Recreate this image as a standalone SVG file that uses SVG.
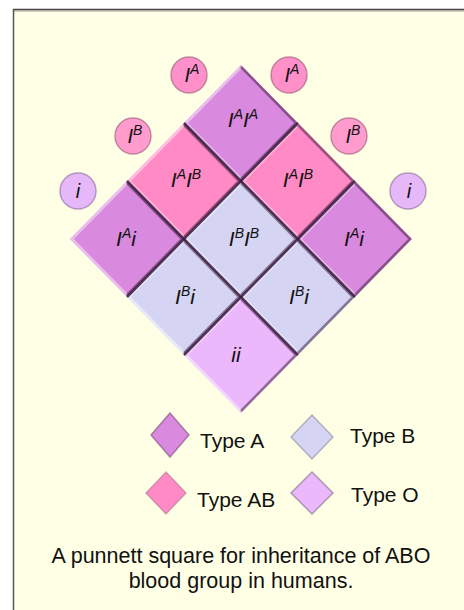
<svg xmlns="http://www.w3.org/2000/svg" width="464" height="610" viewBox="0 0 464 610">
<style>
.lbl{font-family:"Liberation Sans",Arial,sans-serif;font-style:italic;font-size:21px;fill:#111;text-anchor:middle}
.al{font-family:"Liberation Sans",Arial,sans-serif;font-style:italic;font-size:20px;fill:#111;text-anchor:middle}
.sup{font-size:14px}
.leg{font-family:"Liberation Sans",Arial,sans-serif;font-size:21px;fill:#111}
.cap{font-family:"Liberation Sans",Arial,sans-serif;font-size:21.5px;fill:#111;text-anchor:middle}
.tA{fill:#d98ade}
.tAB{fill:#ff8ac6}
.tB{fill:#d5d5f3}
.tO{fill:#ebb8fb}
.hl{fill:none;stroke:#fff;stroke-opacity:0.45;stroke-width:2.5}
.sh{fill:none;stroke:#3a1838;stroke-opacity:0.5;stroke-width:2.5}
.seam{stroke:#3a1a40;stroke-width:2.5;stroke-opacity:0.85}
.cA{fill:#ff90c9;stroke:#9a5a78;stroke-width:1.5;stroke-opacity:0.6}
.cB{fill:#ff9ccd;stroke:#9a5a78;stroke-width:1.5;stroke-opacity:0.6}
.ci{fill:#e6b8fa;stroke:#8a6aa0;stroke-width:1.5;stroke-opacity:0.6}
</style>
<rect x="0" y="0" width="464" height="610" fill="#ffffff"/>
<rect x="13" y="9.5" width="460" height="610" fill="#ffffe6"/>
<line x1="13.5" y1="9" x2="13.5" y2="610" stroke="#555" stroke-width="1.5"/>
<line x1="13" y1="9.5" x2="464" y2="9.5" stroke="#444" stroke-width="1.5"/>
<line x1="14" y1="11" x2="464" y2="11" stroke="#999" stroke-width="1"/>

<g id="cell-IAIA"><polygon class="tA" points="241,65 298,123 241,181 184,123"/><polyline class="hl" points="241,179 186,123 241,67"/><polyline class="sh" points="241,67 296,123 241,179"/><text class="lbl" x="243" y="127">I<tspan class="sup" dy="-8">A</tspan><tspan dy="8">I</tspan><tspan class="sup" dy="-8">A</tspan></text></g>
<g id="cell-IAIB-left"><polygon class="tAB" points="184,123 241,181 184,239 127,181"/><polyline class="hl" points="184,237 129,181 184,125"/><polyline class="sh" points="184,125 239,181 184,237"/><text class="lbl" x="186" y="187">I<tspan class="sup" dy="-8">A</tspan><tspan dy="8">I</tspan><tspan class="sup" dy="-8">B</tspan></text></g>
<g id="cell-IAIB-right"><polygon class="tAB" points="298,123 355,181 298,239 241,181"/><polyline class="hl" points="298,237 243,181 298,125"/><polyline class="sh" points="298,125 353,181 298,237"/><text class="lbl" x="298" y="187">I<tspan class="sup" dy="-8">A</tspan><tspan dy="8">I</tspan><tspan class="sup" dy="-8">B</tspan></text></g>
<g id="cell-IAi-left"><polygon class="tA" points="127,181 184,239 127,297 70,239"/><polyline class="hl" points="127,295 72,239 127,183"/><polyline class="sh" points="127,183 182,239 127,295"/><text class="lbl" x="126" y="246">I<tspan class="sup" dy="-8">A</tspan><tspan dy="8">i</tspan></text></g>
<g id="cell-IBIB"><polygon class="tB" points="241,181 298,239 241,297 184,239"/><polyline class="hl" points="241,295 186,239 241,183"/><polyline class="sh" points="241,183 296,239 241,295"/><text class="lbl" x="244" y="246">I<tspan class="sup" dy="-8">B</tspan><tspan dy="8">I</tspan><tspan class="sup" dy="-8">B</tspan></text></g>
<g id="cell-IAi-right"><polygon class="tA" points="355,181 412,239 355,297 298,239"/><polyline class="hl" points="355,295 300,239 355,183"/><polyline class="sh" points="355,183 410,239 355,295"/><text class="lbl" x="354" y="246">I<tspan class="sup" dy="-8">A</tspan><tspan dy="8">i</tspan></text></g>
<g id="cell-IBi-left"><polygon class="tB" points="184,239 241,297 184,355 127,297"/><polyline class="hl" points="184,353 129,297 184,241"/><polyline class="sh" points="184,241 239,297 184,353"/><text class="lbl" x="185" y="304">I<tspan class="sup" dy="-8">B</tspan><tspan dy="8">i</tspan></text></g>
<g id="cell-IBi-right"><polygon class="tB" points="298,239 355,297 298,355 241,297"/><polyline class="hl" points="298,353 243,297 298,241"/><polyline class="sh" points="298,241 353,297 298,353"/><text class="lbl" x="299" y="304">I<tspan class="sup" dy="-8">B</tspan><tspan dy="8">i</tspan></text></g>
<g id="cell-ii"><polygon class="tO" points="241,297 298,355 241,413 184,355"/><polyline class="hl" points="241,411 186,355 241,299"/><polyline class="sh" points="241,299 296,355 241,411"/><text class="lbl" x="236" y="362">ii</text></g>

<g id="seams">
<line class="seam" x1="184" y1="123" x2="355" y2="297"/>
<line class="seam" x1="127" y1="181" x2="298" y2="355"/>
<line class="seam" x1="298" y1="123" x2="127" y2="297"/>
<line class="seam" x1="355" y1="181" x2="184" y2="355"/>
</g>

<g id="allele-IA-left"><circle class="cA" cx="189" cy="75" r="18"/><text class="al" x="192" y="82">I<tspan class="sup" dy="-8" font-size="13">A</tspan></text></g>
<g id="allele-IA-right"><circle class="cA" cx="289" cy="75" r="18"/><text class="al" x="292" y="82">I<tspan class="sup" dy="-8" font-size="13">A</tspan></text></g>
<g id="allele-IB-left"><circle class="cB" cx="133" cy="136" r="18"/><text class="al" x="135" y="143">I<tspan class="sup" dy="-8" font-size="13">B</tspan></text></g>
<g id="allele-IB-right"><circle class="cB" cx="349" cy="136" r="18"/><text class="al" x="353" y="143">I<tspan class="sup" dy="-8" font-size="13">B</tspan></text></g>
<g id="allele-i-left"><circle class="ci" cx="78" cy="191" r="18"/><text class="al" x="78" y="198">i</text></g>
<g id="allele-i-right"><circle class="ci" cx="408" cy="191" r="18"/><text class="al" x="409" y="198">i</text></g>

<g id="legend-typeA"><polygon class="tA" points="170,413 189,435 170,457 151,435" stroke="#7a4a80" stroke-opacity="0.6" stroke-width="1.5"/><text class="leg" x="200" y="448">Type A</text></g>
<g id="legend-typeB"><polygon class="tB" points="312,415 333,437 312,459 291,437" fill="#e2e2f9" stroke="#8a8aa0" stroke-opacity="0.6" stroke-width="1.5"/><text class="leg" x="350" y="443">Type B</text></g>
<g id="legend-typeAB"><polygon class="tAB" points="166,472 186,493 166,514 146,493" stroke="#a07080" stroke-opacity="0.5" stroke-width="1.5"/><text class="leg" x="197" y="507">Type AB</text></g>
<g id="legend-typeO"><polygon class="tO" points="312,472 333,493 312,514 291,493" stroke="#7a6a8a" stroke-opacity="0.6" stroke-width="1.5"/><text class="leg" x="351" y="502">Type O</text></g>

<g id="caption">
<text class="cap" x="241" y="563">A punnett square for inheritance of ABO</text>
<text class="cap" x="241" y="588">blood group in humans.</text>
</g>
</svg>
